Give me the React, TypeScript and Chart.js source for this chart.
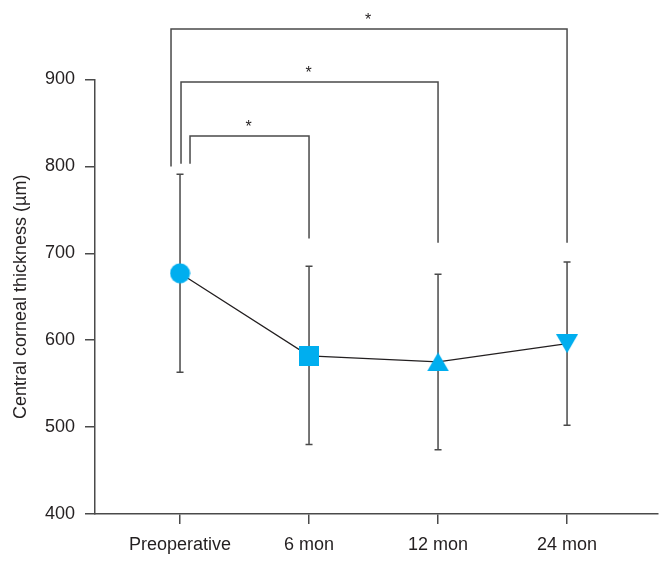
import React, { useEffect, useRef } from 'react';
import { Chart, registerables } from 'chart.js';

Chart.register(...registerables);

const categories = ['Preoperative', '6 mon', '12 mon', '24 mon'];
const meanValues = [677, 582, 575, 596];
const upperValues = [791, 685, 676, 690];
const lowerValues = [563, 480, 474, 502];
const yTickValues = [400, 500, 600, 700, 800, 900];

const bracketFrom = [0, 0, 0];
const bracketTo = [1, 2, 3];
const bracketHeight = [835, 897, 958];
const bracketLeftEnd = [803, 803, 800];
const bracketRightEnd = [717, 712, 712];
const bracketLabels = ['*', '*', '*'];

const GRAY = '#4a4a4a';
const TEXT = '#231f20';
const MARKER = '#00aeef';
const FONT = '"Liberation Sans", Arial, Helvetica, sans-serif';

function makeMarker(kind: string): HTMLCanvasElement {
  const c = document.createElement('canvas');
  const ctx = c.getContext('2d')!;
  if (kind === 'circle') {
    c.width = 21; c.height = 21;
    ctx.fillStyle = MARKER;
    ctx.beginPath();
    ctx.arc(10.5, 10.5, 10, 0, Math.PI * 2);
    ctx.fill();
  } else if (kind === 'square') {
    c.width = 20; c.height = 20;
    ctx.fillStyle = MARKER;
    ctx.fillRect(0, 0, 20, 20);
  } else if (kind === 'up') {
    c.width = 22; c.height = 19;
    ctx.fillStyle = MARKER;
    ctx.beginPath();
    ctx.moveTo(0, 19); ctx.lineTo(22, 19); ctx.lineTo(11, 0); ctx.closePath();
    ctx.fill();
  } else {
    c.width = 22; c.height = 19;
    ctx.fillStyle = MARKER;
    ctx.beginPath();
    ctx.moveTo(0, 0); ctx.lineTo(22, 0); ctx.lineTo(11, 19); ctx.closePath();
    ctx.fill();
  }
  return c;
}

const bracketLeftShift = [10, 1, -9];

const annotationPlugin = {
  id: 'annotations',
  beforeDatasetsDraw(chart: any) {
    const { ctx, scales } = chart;
    const x = scales.x, y = scales.y;
    ctx.save();
    ctx.strokeStyle = GRAY;
    ctx.lineWidth = 1.5;
    for (let i = 0; i < categories.length; i++) {
      const px = x.getPixelForValue(i);
      const top = y.getPixelForValue(upperValues[i]);
      const bot = y.getPixelForValue(lowerValues[i]);
      ctx.beginPath();
      ctx.moveTo(px, top); ctx.lineTo(px, bot);
      ctx.moveTo(px - 3.5, top); ctx.lineTo(px + 3.5, top);
      ctx.moveTo(px - 3.5, bot); ctx.lineTo(px + 3.5, bot);
      ctx.stroke();
    }
    ctx.restore();
  },
  afterDraw(chart: any) {
    const { ctx, scales } = chart;
    const x = scales.x, y = scales.y;
    ctx.save();
    ctx.strokeStyle = GRAY;
    ctx.lineWidth = 1.5;
    ctx.fillStyle = TEXT;
    ctx.font = '16px ' + FONT;
    ctx.textAlign = 'center';
    ctx.textBaseline = 'alphabetic';
    for (let i = 0; i < bracketFrom.length; i++) {
      const xl = x.getPixelForValue(bracketFrom[i]) + bracketLeftShift[i];
      const xr = x.getPixelForValue(bracketTo[i]);
      const yt = y.getPixelForValue(bracketHeight[i]);
      const yl = y.getPixelForValue(bracketLeftEnd[i]);
      const yr = y.getPixelForValue(bracketRightEnd[i]);
      ctx.beginPath();
      ctx.moveTo(xl, yl);
      ctx.lineTo(xl, yt);
      ctx.lineTo(xr, yt);
      ctx.lineTo(xr, yr);
      ctx.stroke();
      ctx.fillText(bracketLabels[i], (xl + xr) / 2 - 1, yt - 4);
    }
    ctx.restore();
  },
};

export default function App() {
  const ref = useRef<HTMLCanvasElement>(null);
  useEffect(() => {
    document.body.style.margin = '0';
    const canvas = ref.current!;
    const markers = [makeMarker('circle'), makeMarker('square'), makeMarker('up'), makeMarker('down')];
    const chart = new Chart(canvas, {
      type: 'line',
      data: {
        datasets: [
          {
            data: meanValues.map((v, i) => ({ x: i, y: v })),
            borderColor: TEXT,
            borderWidth: 1.3,
            fill: false,
            tension: 0,
            pointStyle: markers as any,
            pointRadius: 10,
            pointBackgroundColor: MARKER,
            pointBorderWidth: 0,
          },
        ],
      },
      options: {
        animation: false,
        responsive: false,
        devicePixelRatio: 1,
        layout: { padding: { top: 79.5, right: 13, bottom: 0, left: 0 } },
        plugins: { legend: { display: false }, tooltip: { enabled: false } },
        scales: {
          x: {
            type: 'linear',
            min: -0.659,
            max: 3.705,
            bounds: 'data',
            afterBuildTicks: (s: any) => {
              s.ticks = categories.map((_, i) => ({ value: i }));
            },
            afterFit: (s: any) => {
              s.height = 48;
            },
            ticks: {
              callback: (v: any) => categories[v as number] ?? '',
              font: { size: 18, family: FONT },
              color: TEXT,
              padding: 10,
              autoSkip: false,
              maxRotation: 0,
            },
            grid: { drawOnChartArea: false, drawTicks: true, tickLength: 10, color: GRAY, lineWidth: 1.5 },
            border: { display: true, color: GRAY, width: 1.5 },
          },
          y: {
            type: 'linear',
            min: yTickValues[0],
            max: yTickValues[yTickValues.length - 1],
            afterBuildTicks: (s: any) => {
              s.ticks = yTickValues.map((v) => ({ value: v }));
            },
            afterFit: (s: any) => {
              s.width = 95;
            },
            ticks: {
              font: { size: 18, family: FONT },
              color: TEXT,
              padding: 10,
            },
            grid: { drawOnChartArea: false, drawTicks: true, tickLength: 10, color: GRAY, lineWidth: 1.5 },
            border: { display: true, color: GRAY, width: 1.5 },
            title: {
              display: true,
              text: 'Central corneal thickness (µm)',
              font: { size: 18, family: FONT },
              color: TEXT,
              padding: { top: 10, bottom: 0 },
            },
          },
        },
      },
      plugins: [annotationPlugin],
    });
    return () => chart.destroy();
  }, []);
  return (
    <div style={{ position: 'absolute', left: 0, top: 0, width: 671, height: 562 }}>
      <canvas ref={ref} width={671} height={562} style={{ display: 'block' }} />
    </div>
  );
}
